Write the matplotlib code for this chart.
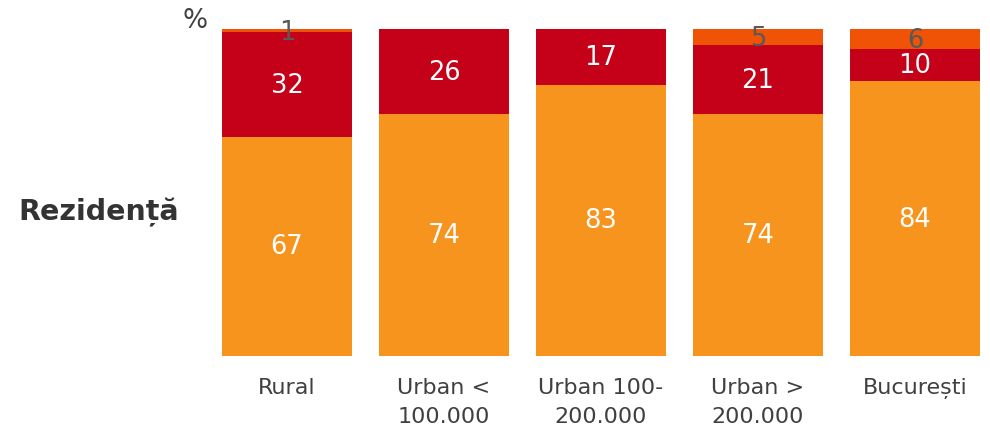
import numpy as np
import matplotlib.pyplot as plt

# categorii si valori (%)
categories = ['Rural', 'Urban <\n100.000', 'Urban 100-\n200.000', 'Urban >\n200.000', 'București']
s_orange = [67, 74, 83, 74, 84]
s_red = [32, 26, 17, 21, 10]
s_top = [1, 0.6, 0, 5, 6]
top_labels = ['1', '', '', '5', '6']

c_orange = '#F7941D'
c_red = '#C50019'
c_top = '#F05206'

fig = plt.figure(figsize=(9.9, 4.31), dpi=100)
ax = fig.add_axes([205/990, 74/431, 785/990, 327/431])

x = np.arange(len(categories))
w = 0.83
ax.bar(x, s_orange, w, color=c_orange)
ax.bar(x, s_red, w, bottom=s_orange, color=c_red)
bottom2 = np.array(s_orange) + np.array(s_red)
ax.bar(x, s_top, w, bottom=bottom2, color=c_top)

for i in range(len(x)):
    ax.text(x[i], s_orange[i]/2, str(s_orange[i]), ha='center', va='center',
            color='white', fontsize=18.5)
    ax.text(x[i], s_orange[i] + s_red[i]/2, str(s_red[i]), ha='center', va='center',
            color='white', fontsize=18.5)
    if top_labels[i]:
        ax.text(x[i], bottom2[i] + s_top[i]/2 - 0.3, top_labels[i], ha='center', va='center',
                color='#595959', fontsize=18.5)

ax.set_xlim(-0.522, 4.478)
ax.set_ylim(0, 100)
ax.set_xticks(x)
ax.set_xticklabels(categories, fontsize=16, color='#404040', linespacing=1.6)
ax.tick_params(axis='x', length=0, pad=15)
ax.set_yticks([])
for s in ax.spines.values():
    s.set_visible(False)

fig.text(18/990, 1 - 212/431, 'Rezidență', fontsize=20.5, fontweight='bold',
         color='#333333', ha='left', va='center')
fig.text(182/990, 1 - 21/431, '%', fontsize=19, color='#404040', ha='left', va='center')

fig.savefig('out.png', dpi=100)
